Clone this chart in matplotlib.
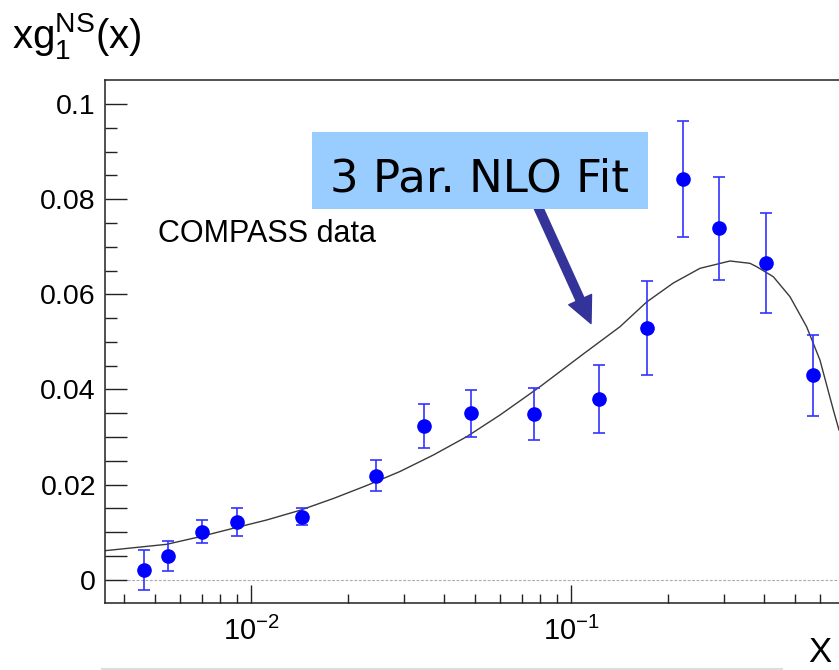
import matplotlib
matplotlib.use("Agg")
import matplotlib.pyplot as plt
from matplotlib.patches import Rectangle
from matplotlib.lines import Line2D
from matplotlib.ticker import FixedLocator, FuncFormatter, LogLocator, LogFormatterSciNotation, NullFormatter

plt.rcParams['font.family'] = ['Liberation Sans', 'DejaVu Sans']
plt.rcParams['mathtext.fontset'] = 'custom'
plt.rcParams['mathtext.rm'] = 'Liberation Sans'
plt.rcParams['mathtext.it'] = 'Liberation Sans:italic'

# ---- data ----
x_data = [0.00461, 0.00550, 0.00701, 0.00902, 0.01437, 0.0245, 0.0347, 0.0487,
          0.0766, 0.1218, 0.1724, 0.2229, 0.2901, 0.4059, 0.5679]
y_data = [0.0020, 0.0050, 0.0101, 0.0121, 0.0132, 0.0219, 0.0323, 0.0350,
          0.0348, 0.0380, 0.0529, 0.0843, 0.0739, 0.0665, 0.0430]
y_err = [0.0042, 0.0032, 0.0024, 0.0029, 0.0018, 0.0033, 0.0046, 0.0049,
         0.0054, 0.0071, 0.0099, 0.0122, 0.0108, 0.0105, 0.0085]

fit_x = [0.003490, 0.005439, 0.006915, 0.008785, 0.011168, 0.014196, 0.018048,
         0.022936, 0.029155, 0.037052, 0.047100, 0.059864, 0.079838, 0.10902,
         0.14196, 0.17201, 0.20835, 0.25245, 0.31325, 0.36177, 0.37963, 0.42782,
         0.48251, 0.54387, 0.5985, 0.6592, 0.68645]
fit_y = [0.00610, 0.00744, 0.00904, 0.01081, 0.01255, 0.01459, 0.01707,
         0.01980, 0.02275, 0.02621, 0.03006, 0.03462, 0.04057, 0.04745,
         0.05318, 0.05838, 0.06237, 0.06546, 0.06700, 0.06651, 0.06580, 0.06370,
         0.05949, 0.05318, 0.04619, 0.03567, 0.03147]

y_major = [0.0, 0.005, 0.01, 0.015, 0.02, 0.025, 0.03, 0.035, 0.04, 0.06, 0.08, 0.1]
y_minor = [0.045, 0.05, 0.055, 0.065, 0.07, 0.075, 0.085, 0.09, 0.095]
y_labeled = {0.0: "0", 0.02: "0.02", 0.04: "0.04", 0.06: "0.06", 0.08: "0.08", 0.1: "0.1"}

ylabel_text = r'$\mathregular{xg_1^{NS}(x)}$'
xlabel_text = 'X'
data_label = 'COMPASS data'
fit_label = '3 Par. NLO Fit'

W, H = 839, 670
fig = plt.figure(figsize=(W / 100, H / 100), dpi=100)
ax = fig.add_axes([105 / W, (H - 603.3) / H, 1 - 105 / W, (603.3 - 80) / H])

ax.set_xscale('log')
ax.set_xlim(0.003490, 0.6865)
ax.set_ylim(-0.00496, 0.10505)

ax.axhline(0, color='#aaaaaa', lw=0.8, ls=(0, (2.5, 1.5)), zorder=1)
ax.plot(fit_x, fit_y, color='#3a3a3a', lw=1.0, zorder=2)
ax.errorbar(x_data, y_data, yerr=y_err, fmt='o', color='#0000ff', ecolor='#3333ff',
            markersize=9.5, elinewidth=1.2, capsize=4.3, capthick=1.2, zorder=3)

# ticks
ax.yaxis.set_major_locator(FixedLocator(y_major))
ax.yaxis.set_minor_locator(FixedLocator(y_minor))
ax.yaxis.set_major_formatter(FuncFormatter(
    lambda v, p: next((t for k, t in y_labeled.items() if abs(k - v) < 1e-9), "")))
ax.xaxis.set_major_locator(LogLocator(base=10, numticks=10))
ax.xaxis.set_minor_locator(LogLocator(base=10, subs=range(2, 10), numticks=20))
ax.xaxis.set_major_formatter(LogFormatterSciNotation())
ax.xaxis.set_minor_formatter(NullFormatter())

ax.tick_params(axis='y', which='major', direction='in', length=15.6, width=1.0,
               labelsize=20.5, pad=6.5, colors='#222222', labelcolor='black')
ax.tick_params(axis='y', which='minor', direction='in', length=8.4, width=1.0, colors='#222222')
ax.tick_params(axis='x', which='major', direction='in', length=13, width=1.0,
               labelsize=21, pad=10, colors='#222222', labelcolor='black')
ax.tick_params(axis='x', which='minor', direction='in', length=6.5, width=1.0, colors='#222222')
ax.tick_params(top=False, right=False)

for s in ['left', 'bottom', 'top']:
    ax.spines[s].set_linewidth(1.1)
    ax.spines[s].set_color('#222222')
ax.spines['right'].set_visible(False)

# labels
fig.text(12 / W, 1 - 48 / H, ylabel_text, fontsize=29, va='baseline', ha='left')
fig.text(808 / W, 1 - 662 / H, xlabel_text, fontsize=25, va='baseline', ha='left')
fig.text(158 / W, 1 - 241.7 / H, data_label, fontsize=22, va='baseline', ha='left')

# highlighted annotation box
fig.patches.append(Rectangle((312 / W, 1 - 208.7 / H), (648 - 312) / W, (208.7 - 132) / H,
                             transform=fig.transFigure, facecolor='#99ccff',
                             edgecolor='none', zorder=5))
fig.text(480 / W, 1 - 191 / H, fit_label, fontsize=32.5, family='DejaVu Sans',
         ha='center', va='baseline', color='black', zorder=6)
ax.annotate('', xy=(591, H - 323.5), xytext=(534, H - 198),
            xycoords='figure pixels', textcoords='figure pixels',
            arrowprops=dict(arrowstyle='simple,head_length=1.05,head_width=1.0,tail_width=0.34',
                            mutation_scale=18, color='#333399', shrinkA=0, shrinkB=0),
            annotation_clip=False, zorder=7)

# faint slide divider line at the bottom
fig.add_artist(Line2D([102 / W, 782 / W], [1 - 669 / H, 1 - 669 / H],
                      transform=fig.transFigure, color='#dddddd', lw=1.5))

fig.savefig('out.png', dpi=100)
